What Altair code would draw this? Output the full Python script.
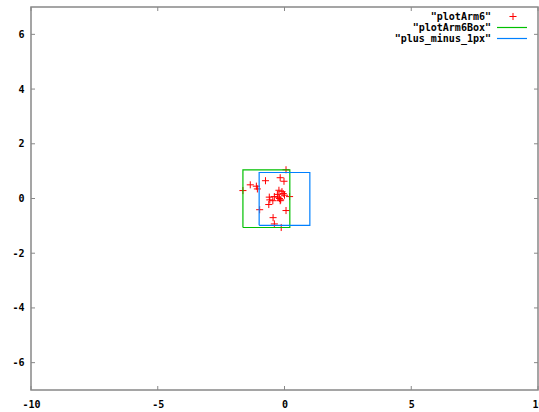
import altair as alt
import pandas as pd

# --- data ---
arm_x = [-1.64, -1.35, -1.11, -1.07, -0.75, -0.17, -0.02, 0.06, -0.22, -0.10,
         -0.28, -0.05, 0.00, 0.20, -0.60, -0.40, -0.20, -0.15, -0.58, -0.46,
         -0.17, -0.62, -0.98, 0.06, -0.45, -0.40, -0.13, -0.25]
arm_y = [0.29, 0.50, 0.45, 0.35, 0.65, 0.76, 0.63, 1.05, 0.30, 0.25,
         0.15, 0.18, 0.12, 0.07, 0.05, 0.07, 0.00, -0.05, -0.05, -0.08,
         -0.08, -0.22, -0.41, -0.44, -0.70, -0.93, -1.06, 0.05]

box_x = [-1.64, 0.21, 0.21, -1.64, -1.64]
box_y = [-1.06, -1.06, 1.05, 1.05, -1.06]

pm_x = [-1.0, 1.0, 1.0, -1.0, -1.0]
pm_y = [-0.98, -0.98, 0.95, 0.95, -0.98]

x_ticks = [-10, -5, 0, 5, 10]
y_ticks = [-6, -4, -2, 0, 2, 4, 6]

legend_labels = ['"plotArm6"', '"plotArm6Box"', '"plus_minus_1px"']
colors = ["#ff0000", "#00c000", "#0080ff"]

W, H = 507, 383
FONT = "DejaVu Sans Mono"
BORDER = "#888888"
PLUS = "M-1,0L1,0M0,-1L0,1"

arm = pd.DataFrame({"x": arm_x, "y": arm_y})
box = pd.DataFrame({"x": box_x, "y": box_y, "i": list(range(len(box_x)))})
pm = pd.DataFrame({"x": pm_x, "y": pm_y, "i": list(range(len(pm_x)))})
xt = pd.DataFrame({"v": x_ticks})
yt = pd.DataFrame({"v": y_ticks})
one = pd.DataFrame({"a": [0]})

xscale = alt.Scale(domain=[-10, 10], nice=False, zero=False)
yscale = alt.Scale(domain=[-7, 7], nice=False, zero=False)

xaxis = alt.Axis(values=x_ticks, grid=False, domain=False, ticks=False,
                 labelPadding=9, labelFont=FONT, labelFontWeight="bold",
                 labelFontSize=10, labelColor="black", labelFlush=False,
                 labelOverlap=False, labelExpr="'' + datum.value", title=None)
yaxis = alt.Axis(values=y_ticks, grid=False, domain=False, ticks=False,
                 labelPadding=7, labelFont=FONT, labelFontWeight="bold",
                 labelFontSize=10, labelColor="black", labelFlush=False,
                 labelOverlap=False, labelExpr="'' + datum.value", title=None)

X = alt.X("x:Q", scale=xscale, axis=xaxis)
Y = alt.Y("y:Q", scale=yscale, axis=yaxis)

points = alt.Chart(arm).mark_point(shape=PLUS, filled=False, size=50,
                                   strokeWidth=1, opacity=1).encode(
    x=X, y=Y, color=alt.value(colors[0]))

box_line = alt.Chart(box).mark_line(strokeWidth=1.2).encode(
    x=alt.X("x:Q", scale=xscale), y=alt.Y("y:Q", scale=yscale),
    order=alt.Order("i:Q"), color=alt.value(colors[1]))

pm_line = alt.Chart(pm).mark_line(strokeWidth=1.2).encode(
    x=alt.X("x:Q", scale=xscale), y=alt.Y("y:Q", scale=yscale),
    order=alt.Order("i:Q"), color=alt.value(colors[2]))

# inward ticks (gnuplot style), mirrored on all four sides
tick_b = alt.Chart(xt).mark_rule(color=BORDER).encode(
    x=alt.X("v:Q", scale=xscale), y=alt.value(H), y2=alt.value(H - 4))
tick_t = alt.Chart(xt).mark_rule(color=BORDER).encode(
    x=alt.X("v:Q", scale=xscale), y=alt.value(0), y2=alt.value(4))
tick_l = alt.Chart(yt).mark_rule(color=BORDER).encode(
    y=alt.Y("v:Q", scale=yscale), x=alt.value(0), x2=alt.value(4))
tick_r = alt.Chart(yt).mark_rule(color=BORDER).encode(
    y=alt.Y("v:Q", scale=yscale), x=alt.value(W), x2=alt.value(W - 4))

# key (top-right, inside the plot)
rows = [9.5, 20.5, 31.5]
key_layers = []
for lab, ry in zip(legend_labels, rows):
    key_layers.append(alt.Chart(one).mark_text(
        align="right", baseline="middle", font=FONT, fontWeight="bold",
        fontSize=10, color="black").encode(
        x=alt.value(460), y=alt.value(ry), text=alt.value(lab)))
key_layers.append(alt.Chart(one).mark_point(
    shape=PLUS, filled=False, size=50, strokeWidth=1, opacity=1).encode(
    x=alt.value(482), y=alt.value(rows[0]), color=alt.value(colors[0])))
key_layers.append(alt.Chart(one).mark_rule(strokeWidth=1.2).encode(
    x=alt.value(466), x2=alt.value(496), y=alt.value(rows[1]),
    color=alt.value(colors[1])))
key_layers.append(alt.Chart(one).mark_rule(strokeWidth=1.2).encode(
    x=alt.value(466), x2=alt.value(496), y=alt.value(rows[2]),
    color=alt.value(colors[2])))

chart = alt.layer(
    points, box_line, pm_line, tick_b, tick_t, tick_l, tick_r, *key_layers
).properties(
    width=W, height=H,
    autosize=alt.AutoSizeParams(type="none"),
    padding={"left": 31, "top": 7, "right": 1, "bottom": 22},
    background="white",
).configure_view(stroke=BORDER, strokeWidth=1.5)

chart.save("out.html", embed_options={"renderer": "svg", "actions": False})
